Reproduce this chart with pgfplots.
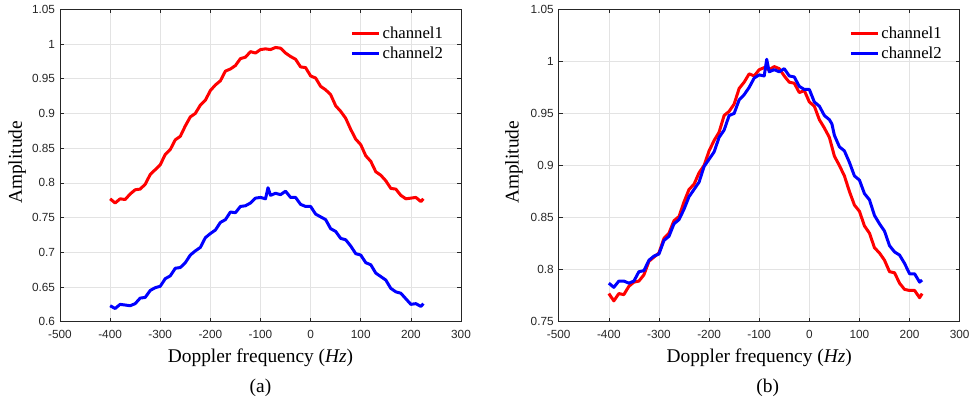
\documentclass[border=0pt]{standalone}
\usepackage{fontspec}
\setmainfont{Liberation Serif}
\newfontfamily\arial{Liberation Sans}
\usepackage{pgfplots}
\pgfplotsset{compat=1.18}
\definecolor{axgray}{RGB}{38,38,38}
\definecolor{mred}{RGB}{255,0,0}
\definecolor{mblue}{RGB}{0,0,255}

\pgfplotsset{ampl/.style={
  scale only axis, width=401pt, height=312.4pt,
  xmin=-500, xmax=300, xtick distance=100,
  grid=major, major grid style={color=black!11, line width=0.6pt},
  axis line style={axgray, line width=0.6pt},
  tick style={axgray, line width=0.6pt}, major tick length=4pt, tick align=inside,
  tick label style={font=\fontsize{11.8}{12}\arial, text=axgray},
  /pgf/number format/assume math mode=true,
  xticklabel style={yshift=-5pt},
  yticklabel style={xshift=-1.5pt},
  xlabel={Doppler frequency (\textit{Hz})},
  ylabel={Amplitude},
  label style={font=\fontsize{19.4}{20}\selectfont},
  xlabel style={at={(axis description cs:0.5,-0.117)}, anchor=center},
  legend style={draw=none, fill=none, font=\fontsize{16.7}{18}\selectfont,
    at={(axis description cs:0.968,0.958)}, anchor=north east, row sep=3.5pt},
  legend cell align=left,
  legend image code/.code={\draw[#1, line width=2.8pt] (0pt,0pt) -- (27pt,0pt);},
  every axis plot/.append style={line width=3pt, line join=round},
}}

\begin{document}
\begin{tikzpicture}
\useasboundingbox (0,0) rectangle (972pt,406pt);

% (a)
\begin{axis}[ampl, name=pa, at={(60pt,84.3pt)}, anchor=south west,
  ymin=0.6, ymax=1.05, ytick distance=0.05,
  ylabel style={at={(axis description cs:-0.107,0.51)}, anchor=center}]
\addplot[mred] coordinates {
(-400,0.777)(-390,0.771)(-380,0.777)(-370,0.776)(-360,0.784)(-350,0.790)(-340,0.791)(-330,0.798)
(-320,0.812)(-310,0.819)(-300,0.826)(-290,0.841)(-280,0.848)(-270,0.862)(-260,0.867)(-250,0.882)
(-240,0.895)(-230,0.900)(-220,0.912)(-210,0.919)(-200,0.933)(-190,0.941)(-180,0.947)(-170,0.961)
(-160,0.964)(-150,0.969)(-140,0.979)(-130,0.981)(-120,0.989)(-110,0.987)(-100,0.992)(-90,0.993)
(-80,0.992)(-70,0.995)(-60,0.994)(-50,0.987)(-40,0.982)(-30,0.978)(-20,0.967)(-10,0.966)
(0,0.954)(10,0.951)(20,0.939)(30,0.934)(40,0.927)(50,0.911)(60,0.903)(70,0.893)
(80,0.877)(90,0.863)(100,0.855)(110,0.839)(120,0.831)(130,0.816)(140,0.811)(150,0.803)
(160,0.792)(170,0.791)(180,0.782)(190,0.777)(200,0.778)(210,0.779)(220,0.773)(225,0.777)
};
\addlegendentry{channel1}
\addplot[mblue] coordinates {
(-400,0.623)(-390,0.619)(-380,0.625)(-370,0.624)(-360,0.623)(-350,0.626)(-340,0.634)(-330,0.635)
(-320,0.645)(-310,0.649)(-300,0.651)(-290,0.662)(-280,0.666)(-270,0.677)(-260,0.678)(-250,0.685)
(-240,0.696)(-230,0.702)(-220,0.707)(-210,0.721)(-200,0.727)(-190,0.732)(-180,0.743)(-170,0.747)
(-160,0.758)(-150,0.757)(-140,0.766)(-130,0.767)(-120,0.771)(-110,0.778)(-100,0.779)(-90,0.777)
(-85,0.793)(-80,0.782)(-70,0.785)(-60,0.783)(-50,0.788)(-40,0.779)(-30,0.779)(-20,0.769)(-10,0.766)
(0,0.766)(10,0.755)(20,0.751)(30,0.747)(40,0.734)(50,0.730)(60,0.720)(70,0.718)
(80,0.709)(90,0.698)(100,0.696)(110,0.685)(120,0.682)(130,0.670)(140,0.665)(150,0.660)
(160,0.648)(170,0.643)(180,0.641)(190,0.633)(200,0.625)(210,0.626)(220,0.622)(225,0.626)
};
\addlegendentry{channel2}
\end{axis}
\node[font=\fontsize{19.4}{20}\selectfont] at ([yshift=-66.3pt]pa.south) {(a)};

% (b)
\begin{axis}[ampl, name=pb, at={(558.7pt,84.3pt)}, anchor=south west,
  ymin=0.75, ymax=1.05, ytick distance=0.05,
  ylabel style={at={(axis description cs:-0.1115,0.51)}, anchor=center}]
\addplot[mred] coordinates {
(-400,0.777)(-390,0.770)(-380,0.777)(-370,0.776)(-360,0.784)(-350,0.788)(-340,0.789)(-330,0.795)
(-320,0.808)(-310,0.812)(-300,0.816)(-290,0.830)(-280,0.835)(-270,0.847)(-260,0.851)(-250,0.865)
(-240,0.877)(-230,0.882)(-220,0.893)(-210,0.900)(-200,0.914)(-190,0.924)(-180,0.932)(-170,0.948)
(-160,0.952)(-150,0.959)(-140,0.974)(-130,0.980)(-120,0.988)(-110,0.986)(-100,0.992)(-90,0.994)
(-80,0.992)(-70,0.995)(-60,0.993)(-50,0.986)(-40,0.980)(-30,0.979)(-20,0.970)(-10,0.972)
(0,0.961)(10,0.957)(20,0.944)(30,0.936)(40,0.927)(50,0.909)(60,0.900)(70,0.890)
(80,0.875)(90,0.862)(100,0.856)(110,0.842)(120,0.835)(130,0.821)(140,0.816)(150,0.809)
(160,0.798)(170,0.797)(180,0.787)(190,0.781)(200,0.780)(210,0.780)(220,0.773)(225,0.777)
};
\addlegendentry{channel1}
\addplot[mblue] coordinates {
(-400,0.787)(-390,0.783)(-380,0.789)(-370,0.789)(-360,0.787)(-350,0.789)(-340,0.798)(-330,0.799)
(-320,0.809)(-310,0.813)(-300,0.815)(-290,0.828)(-280,0.832)(-270,0.844)(-260,0.848)(-250,0.858)
(-240,0.870)(-230,0.877)(-220,0.884)(-210,0.899)(-200,0.906)(-190,0.913)(-180,0.927)(-170,0.934)
(-160,0.948)(-150,0.950)(-140,0.963)(-130,0.968)(-120,0.975)(-110,0.984)(-100,0.987)(-90,0.986)
(-85,1.002)(-80,0.990)(-70,0.992)(-60,0.990)(-50,0.993)(-40,0.986)(-30,0.985)(-20,0.976)(-10,0.973)
(0,0.973)(10,0.961)(20,0.957)(30,0.948)(40,0.944)(45,0.940)(50,0.929)(60,0.918)(70,0.914)
(80,0.903)(90,0.890)(100,0.886)(110,0.873)(120,0.867)(130,0.852)(140,0.844)(150,0.837)
(160,0.823)(170,0.817)(180,0.814)(190,0.806)(200,0.796)(210,0.796)(220,0.788)(225,0.790)
};
\addlegendentry{channel2}
\end{axis}
\node[font=\fontsize{19.4}{20}\selectfont] at ([xshift=8.5pt,yshift=-66.3pt]pb.south) {(b)};
\end{tikzpicture}
\end{document}
